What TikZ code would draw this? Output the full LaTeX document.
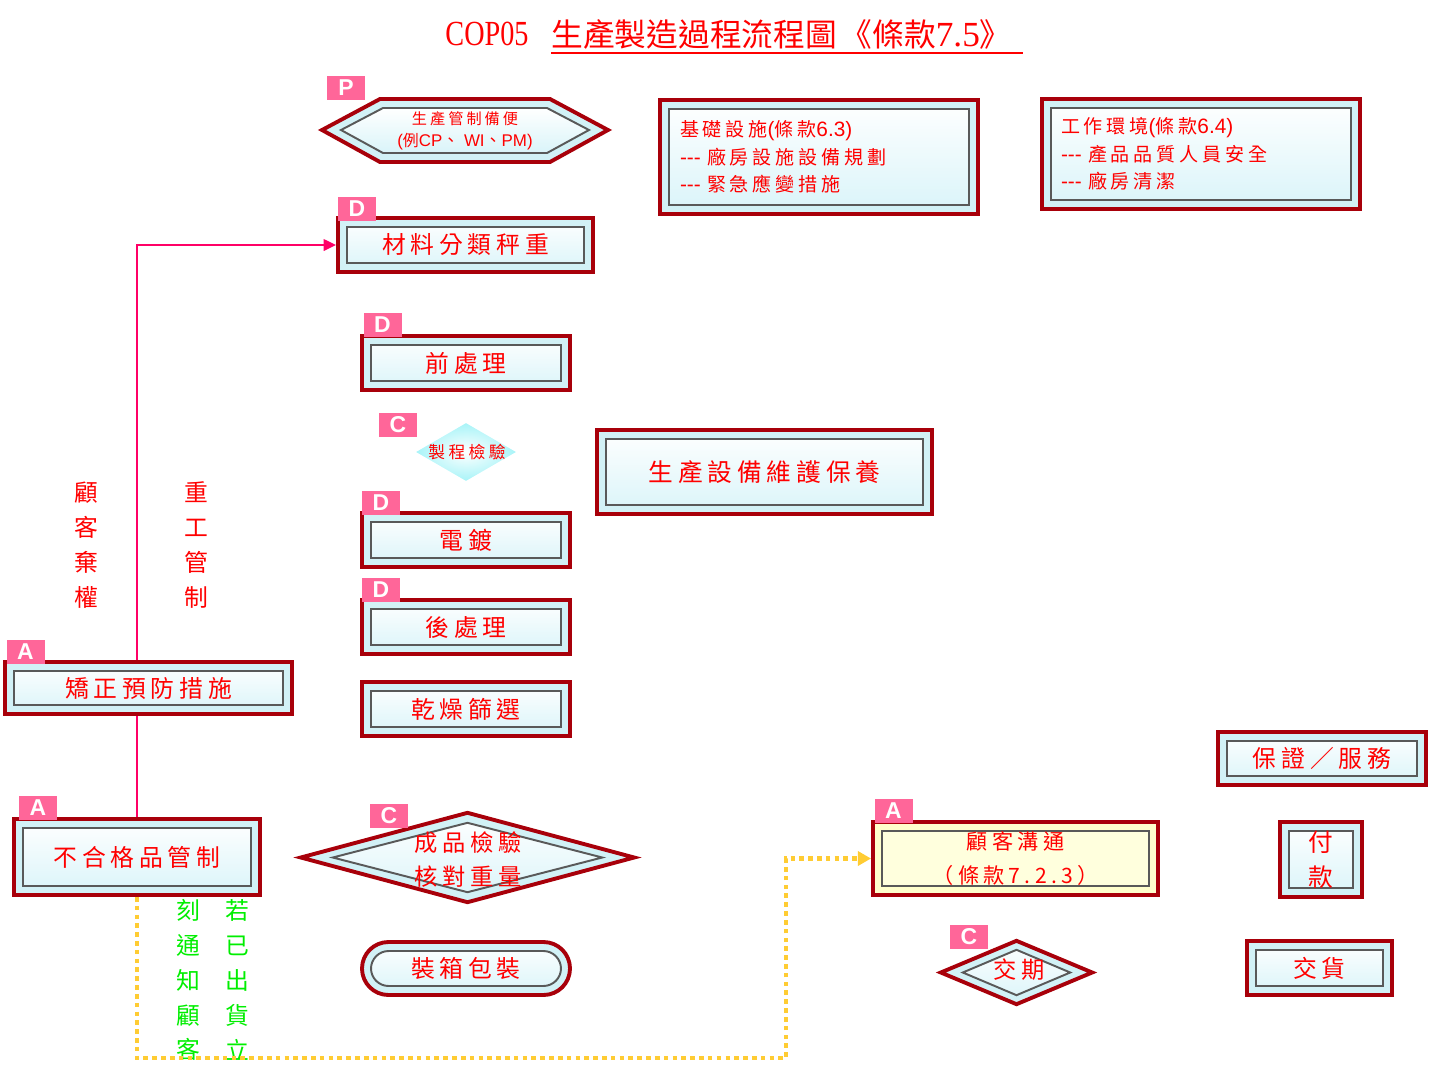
\documentclass[tikz,border=0pt]{standalone}
\usepackage{fontspec}
\usepackage{graphicx}
\setmainfont{Liberation Serif}
\newfontfamily\cjk{Noto Sans CJK TC}
\newfontfamily\cjks[LetterSpace=20]{Noto Sans CJK TC}
\newfontfamily\lsans{Liberation Sans}
\usetikzlibrary{shapes.geometric,arrows.meta,calc}
\definecolor{boxred}{HTML}{A8000A}
\definecolor{band}{HTML}{D2F1F6}
\definecolor{panelb}{HTML}{D9F4F9}
\definecolor{tagpink}{HTML}{FF6699}
\definecolor{txtred}{HTML}{FF0000}
\definecolor{linkpink}{HTML}{FF0066}
\definecolor{dotyel}{HTML}{FFCC33}
\definecolor{grn}{HTML}{00EE00}
\definecolor{cream}{HTML}{FFFFCC}
\definecolor{creamb}{HTML}{FFFFDD}
\newcommand\pxl[1]{#1*0.567pt}
\newcommand\lat[1]{{\lsans\fontsize{11.8pt}{15.6pt}\selectfont #1}}
\tikzset{
  panel/.style={draw=gray!70!black, line width=1.1pt, top color=white, bottom color=panelb},
  panely/.style={draw=gray!70!black, line width=1.1pt, fill=creamb},
  bx/.style={rectangle, draw=boxred, line width=2.2pt, fill=band, inner sep=0pt, text=txtred, align=center,
    font=\cjks\fontsize{13.5pt}{16pt}\selectfont,
    path picture={\draw[panel] ([shift={(9,9)}]path picture bounding box.north west) rectangle ([shift={(-9,-9)}]path picture bounding box.south east);}},
  bxy/.style={rectangle, draw=boxred, line width=2.2pt, fill=cream, inner sep=0pt, text=txtred, align=center,
    font=\cjks\fontsize{12pt}{19.8pt}\selectfont,
    path picture={\draw[panely] ([shift={(9,9)}]path picture bounding box.north west) rectangle ([shift={(-9,-9)}]path picture bounding box.south east);}},
  stad/.style={rectangle, rounded corners=15pt, draw=boxred, line width=2.2pt, fill=band, inner sep=0pt, text=txtred,
    font=\cjks\fontsize{13.5pt}{16pt}\selectfont,
    path picture={\draw[panel, rounded corners=10pt] ([shift={(9,9)}]path picture bounding box.north west) rectangle ([shift={(-9,-9)}]path picture bounding box.south east);}},
  dm/.style 2 args={shape=diamond, draw=boxred, line width=2.2pt, fill=band, inner sep=0pt,
    path picture={\draw[panel] ([shift={(0,#1)}]path picture bounding box.north) -- ([shift={(-#2,0)}]path picture bounding box.east) -- ([shift={(0,-#1)}]path picture bounding box.south) -- ([shift={(#2,0)}]path picture bounding box.west) -- cycle;}},
  tag/.style={fill=tagpink, text=white, font=\lsans\bfseries\fontsize{13pt}{13pt}\selectfont,
    minimum width=\pxl{38}, minimum height=\pxl{24}, inner sep=0pt},
  rtxt/.style={text=txtred, align=center, inner sep=0pt},
  vred/.style={text=txtred, align=center, inner sep=0pt, font=\cjk\fontsize{13.5pt}{19.8pt}\selectfont},
  vgrn/.style={text=grn, align=center, inner sep=0pt, font=\cjk\fontsize{13.5pt}{19.8pt}\selectfont},
  pinkln/.style={draw=linkpink, line width=1.1pt},
  yelln/.style={draw=dotyel, line width=2.6pt, dash pattern=on 2.6pt off 2.4pt},
}
\begin{document}
\begin{tikzpicture}[x=0.567pt, y=-0.567pt]
\useasboundingbox (0,0) rectangle (1441,1083);

% title
\node[text=txtred, inner sep=0pt, font=\fontsize{20pt}{22pt}\selectfont] (tcop) at (487,34) {\scalebox{0.8}[1]{COP05}};
\node[text=txtred, inner sep=0pt, anchor=west, font=\cjk\fontsize{18pt}{20pt}\selectfont] (ttl) at (551,34)
  {生產製造過程流程圖\kern2pt《條款{\rmfamily\fontsize{20pt}{20pt}\selectfont 7.5}》\kern6pt};
\draw[txtred, line width=0.9pt] ([yshift=-2pt]ttl.south west) -- ([yshift=-2pt]ttl.south east);

% P hexagon
\coordinate (plan) at (465,131);
\draw[draw=boxred, line width=2.2pt, fill=band] ($(plan)+(-143,-1)$) -- ($(plan)+(-85,-32)$) -- ($(plan)+(85,-32)$) -- ($(plan)+(143,-1)$) -- ($(plan)+(85,31)$) -- ($(plan)+(-85,31)$) -- cycle;
\draw[panel] ($(plan)+(-124,-1)$) -- ($(plan)+(-82,-23)$) -- ($(plan)+(82,-23)$) -- ($(plan)+(124,-1)$) -- ($(plan)+(82,22)$) -- ($(plan)+(-82,22)$) -- cycle;
\node[rtxt, font=\cjks\fontsize{8.6pt}{12.5pt}\selectfont] (plant) at (plan) {生產管制備便\\{\lsans\fontsize{9.6pt}{12pt}\selectfont (}{\cjk\fontsize{9pt}{12pt}\selectfont 例}{\lsans\fontsize{9.6pt}{12pt}\selectfont CP}{\cjk\fontsize{9.6pt}{12pt}\selectfont 、}{\lsans\fontsize{9.6pt}{12pt}\selectfont~WI}{\cjk\fontsize{9.6pt}{12pt}\selectfont 、}{\lsans\fontsize{9.6pt}{12pt}\selectfont PM)}};
\node[tag] (tp) at (346,88) {P};

% boxes
\node[bx, minimum width=\pxl{255}, minimum height=\pxl{54}] (mat) at (465.5,245) {材料分類秤重};
\node[tag] (tmat) at (357,208.5) {D};
\node[bx, minimum width=\pxl{208}, minimum height=\pxl{54}] (pre) at (466,363) {前處理};
\node[tag] (tpre) at (382.5,325) {D};
\node[bx, minimum width=\pxl{208}, minimum height=\pxl{54}] (plate) at (466,540) {電鍍};
\node[tag] (tplate) at (381,503) {D};
\node[bx, minimum width=\pxl{208}, minimum height=\pxl{54}] (post) at (466,627) {後處理};
\node[tag] (tpost) at (381,590) {D};
\node[bx, minimum width=\pxl{208}, minimum height=\pxl{54}] (dry) at (466,709) {乾燥篩選};
\node[bx, minimum width=\pxl{335}, minimum height=\pxl{84}, font=\cjks\fontsize{14pt}{16pt}\selectfont] (maint) at (764.5,472) {生產設備維護保養};
\node[bx, minimum width=\pxl{318}, minimum height=\pxl{114}, align=left, text width=\pxl{278}, font=\cjks\fontsize{10.8pt}{15.6pt}\selectfont] (infra) at (819,157) {基礎設施\lat{(}條款\lat{6.3)}\\\lat{--- }廠房設施設備規劃\\\lat{--- }緊急應變措施};
\node[bx, minimum width=\pxl{318}, minimum height=\pxl{110}, align=left, text width=\pxl{280}, font=\cjks\fontsize{10.8pt}{15.6pt}\selectfont] (env) at (1201,154) {工作環境\lat{(}條款\lat{6.4)}\\\lat{--- }產品品質人員安全\\\lat{--- }廠房清潔};
\node[bx, minimum width=\pxl{287}, minimum height=\pxl{52}] (cor) at (148.5,688) {矯正預防措施};
\node[tag] (tcor) at (25.5,652) {A};
\node[bx, minimum width=\pxl{246}, minimum height=\pxl{76}] (bad) at (137,857) {不合格品管制};
\node[tag] (tbad) at (38,808) {A};
\node[bxy, minimum width=\pxl{285}, minimum height=\pxl{73}] (cust) at (1015.5,858.5) {顧客溝通\\（條款7.2.3）};
\node[tag] (tcust) at (893.5,811) {A};
\node[bx, minimum width=\pxl{208}, minimum height=\pxl{53}] (warr) at (1322,758.5) {保證／服務};
\node[bx, minimum width=\pxl{82}, minimum height=\pxl{75}, font=\cjk\fontsize{14pt}{19.8pt}\selectfont] (pay) at (1321,859.5) {付\\款};
\node[bx, minimum width=\pxl{145}, minimum height=\pxl{54}] (deliv) at (1319.5,968) {交貨};
\node[stad, minimum width=\pxl{208}, minimum height=\pxl{53}] (pack) at (466,968.5) {裝箱包裝};

% in-process inspection (soft diamond)
\node[shape=diamond, minimum width=\pxl{100}, minimum height=\pxl{58}, inner sep=0pt, inner color=white, outer color=band!80!cyan] (ipq) at (466,452) {};
\node[rtxt, font=\cjks\fontsize{9.5pt}{12pt}\selectfont] (ipqt) at (467,452) {製程檢驗};
\node[tag] (tipq) at (398,425) {C};

% final inspection diamond
\node[dm={10}{32}, minimum width=\pxl{335}, minimum height=\pxl{91}] (fin) at (467.5,857.5) {};
\node[rtxt, font=\cjks\fontsize{13.2pt}{19.8pt}\selectfont] (fint) at (468,859.5) {成品檢驗\\核對重量};
\node[tag] (tfin) at (389,816) {C};

% due date diamond
\node[dm={9}{22}, minimum width=\pxl{153}, minimum height=\pxl{65}] (due) at (1016.5,972.5) {};
\node[rtxt, font=\cjks\fontsize{13.2pt}{16pt}\selectfont] (duet) at (1019,970) {交期};
\node[tag] (tdue) at (969,937) {C};

% vertical texts
\node[vred] (v1) at (86,545) {顧\\客\\棄\\權};
\node[vred] (v2) at (196,545) {重\\工\\管\\制};
\node[vgrn] (g1) at (188,980) {刻\\通\\知\\顧\\客};
\node[vgrn] (g2) at (237,980) {若\\已\\出\\貨\\立};

% connectors
\draw[pinkln] (bad.north) -- (bad.north |- cor.south);
\draw[pinkln, -{Triangle[length=7pt,width=6.5pt]}] (bad.north |- cor.north) |- (mat.west);
\coordinate (ycorner) at (786,1058);
\draw[yelln, -{Triangle[length=7.5pt,width=8pt,fill=dotyel]}] (bad.south) |- (ycorner) |- (cust.west);
\end{tikzpicture}
\end{document}
